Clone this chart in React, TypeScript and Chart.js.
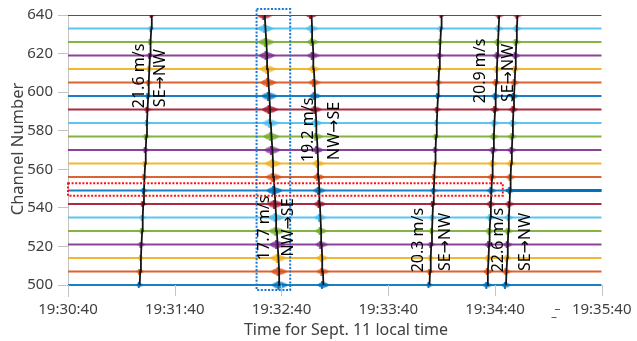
import React, { useEffect, useRef } from 'react';
import { Chart, registerables } from 'chart.js';

Chart.register(...registerables);

// ---------- data ----------
const channels = [500, 507, 514, 521, 528, 535, 542, 549, 556, 563, 570, 577, 584, 591, 598, 605, 612, 619, 626, 633, 640];
const traceColors = ['#0072BD', '#D95319', '#EDB120', '#7E2F8E', '#77AC30', '#4DBEEE', '#A2142F'];

const xTickSeconds = [0, 60, 120, 180, 240, 300];
const xTickLabels = ['19:30:40', '19:31:40', '19:32:40', '19:33:40', '19:34:40', '19:35:40'];
const yTicks = [500, 520, 540, 560, 580, 600, 620, 640];

// arrival time (s after 19:30:40) at each channel, channel 500 -> 640
const arrivalsE1 = [40.3, 40.6, 41.0, 41.3, 41.7, 42.0, 42.3, 42.7, 43.0, 43.4, 43.7, 44.0, 44.4, 44.7, 45.1, 45.4, 45.7, 46.1, 46.4, 46.8, 47.1];
const arrivalsE2 = [119.1, 118.7, 118.3, 117.8, 117.4, 117.0, 116.6, 116.1, 115.7, 115.3, 114.9, 114.4, 114.0, 113.6, 113.2, 112.7, 112.3, 111.9, 111.5, 111.0, 110.6];
const arrivalsE3 = [143.6, 143.3, 142.9, 142.6, 142.3, 141.9, 141.6, 141.3, 140.9, 140.6, 140.3, 139.9, 139.6, 139.2, 138.9, 138.6, 138.2, 137.9, 137.6, 137.2, 136.9];
const arrivalsE4 = [203.2, 203.5, 203.9, 204.2, 204.6, 204.9, 205.2, 205.6, 205.9, 206.3, 206.6, 206.9, 207.3, 207.6, 208.0, 208.3, 208.6, 209.0, 209.3, 209.7, 210.0];
const arrivalsE5 = [235.7, 236.0, 236.4, 236.7, 237.0, 237.4, 237.7, 238.0, 238.4, 238.7, 239.1, 239.4, 239.7, 240.1, 240.4, 240.7, 241.1, 241.4, 241.7, 242.1, 242.4];
const arrivalsE6 = [246.2, 246.5, 246.9, 247.2, 247.5, 247.8, 248.2, 248.5, 248.8, 249.1, 249.5, 249.8, 250.1, 250.4, 250.7, 251.1, 251.4, 251.7, 252.0, 252.3, 252.7];
const eventArrivals = [arrivalsE1, arrivalsE2, arrivalsE3, arrivalsE4, arrivalsE5, arrivalsE6];

const eventSpeeds = ['21.6 m/s', '19.2 m/s', '17.7 m/s', '20.3 m/s', '20.9 m/s', '22.6 m/s'];
const eventDirections = ['SE→NW', 'NW→SE', 'NW→SE', 'SE→NW', 'SE→NW', 'SE→NW'];
// label anchors [seconds, channel]
const speedLabelAt = [[42.6, 608.4], [137.6, 580.4], [112.9, 529.6], [199.5, 523.3], [234.4, 611.0], [244.5, 523.3]];
const directionLabelAt = [[54.4, 607.3], [152.3, 579.9], [126.4, 529.8], [214.7, 522.3], [250.2, 609.9], [259.7, 522.3]];

// highlight boxes [t0, t1, ch0, ch1]
const blueBox = [106.0, 124.9, 497.4, 643.1];
const redBox = [0, 244.4, 546.3, 552.7];

const traceStart = 0;
const traceEnd = 300;
const strongTraceChannel = 549;
const strongTraceSpan = [246.2, 300];

// ---------- styles ----------
const burstW = [8, 17, 13, 8, 10, 10];
const burstH = [4, 7, 6, 4, 5, 5];
const FONT = '"Noto Sans", "DejaVu Sans", sans-serif';

function makeBurst(color: string, w: number, h: number) {
  const c = document.createElement('canvas');
  c.width = w;
  c.height = h + 2;
  const g = c.getContext('2d')!;
  g.globalAlpha = 0.8;
  g.fillStyle = color;
  const px = w * 0.4;
  const cy = (h + 2) / 2;
  g.beginPath();
  g.moveTo(0, cy);
  g.quadraticCurveTo(px, cy - h, w, cy);
  g.quadraticCurveTo(px, cy + h, 0, cy);
  g.closePath();
  g.fill();
  // a short vertical spike at the onset
  g.globalAlpha = 0.9;
  g.fillRect(Math.round(px) - 1, 0, 2, h + 2);
  return c;
}

const overlayPlugin = {
  id: 'overlay',
  afterDatasetsDraw(chart: any) {
    const { ctx, chartArea } = chart;
    const x = chart.scales.x;
    const y = chart.scales.y;
    ctx.save();
    // x tick marks (inside, from data bottom to axis bottom)
    ctx.strokeStyle = '#c4c4c4';
    ctx.lineWidth = 1;
    const yb = y.getPixelForValue(500);
    xTickSeconds.forEach((v) => {
      const px = Math.round(x.getPixelForValue(v)) + 0.5;
      ctx.beginPath();
      ctx.moveTo(px, yb);
      ctx.lineTo(px, chartArea.bottom);
      ctx.stroke();
    });
    // dotted boxes
    const box = (b: number[], color: string) => {
      const x0 = x.getPixelForValue(b[0]);
      const x1 = x.getPixelForValue(b[1]);
      const y0 = y.getPixelForValue(b[3]);
      const y1 = y.getPixelForValue(b[2]);
      ctx.strokeStyle = color;
      ctx.lineWidth = 2;
      ctx.setLineDash([2, 1.6]);
      ctx.strokeRect(x0, y0, x1 - x0, y1 - y0);
    };
    box(blueBox, '#1a78d4');
    box(redBox, '#ff1010');
    ctx.setLineDash([]);
    // rotated labels
    ctx.fillStyle = '#000';
    ctx.font = `16px ${FONT}`;
    ctx.textAlign = 'center';
    ctx.textBaseline = 'alphabetic';
    const rot = (text: string, at: number[]) => {
      ctx.save();
      ctx.translate(x.getPixelForValue(at[0]), y.getPixelForValue(at[1]));
      ctx.rotate(-Math.PI / 2);
      ctx.fillText(text, 0, 0);
      ctx.restore();
    };
    eventSpeeds.forEach((s, i) => rot(s, speedLabelAt[i]));
    eventDirections.forEach((s, i) => rot(s, directionLabelAt[i]));
    // axis titles
    ctx.fillStyle = '#404040';
    ctx.font = `16.5px ${FONT}`;
    ctx.save();
    ctx.translate(23.3, 149);
    ctx.rotate(-Math.PI / 2);
    ctx.fillText('Channel Number', 0, 0);
    ctx.restore();
    ctx.font = `16px ${FONT}`;
    ctx.fillText('Time for Sept. 11 local time', 346, 335);
    // small red marks below the axis
    ctx.strokeStyle = '#e02020';
    ctx.lineWidth = 1;
    ctx.beginPath();
    ctx.moveTo(555, 309.5);
    ctx.lineTo(560, 309.5);
    ctx.moveTo(551.5, 317.5);
    ctx.lineTo(556.5, 317.5);
    ctx.stroke();
    ctx.restore();
  },
};

export default function App() {
  const ref = useRef<HTMLCanvasElement | null>(null);

  useEffect(() => {
    const canvas = ref.current;
    if (!canvas) return;
    const bursts = traceColors.map((c) => burstW.map((w, e) => makeBurst(c, w, burstH[e])));

    const traceSets = channels.map((ch, i) => ({
      type: 'line' as const,
      data: [
        { x: traceStart, y: ch },
        { x: traceEnd, y: ch },
      ],
      borderColor: traceColors[i % 7] + 'E6',
      borderWidth: 2,
      pointRadius: 0,
      order: 3,
    }));

    const strongSet = {
      type: 'line' as const,
      data: [
        { x: strongTraceSpan[0], y: strongTraceChannel },
        { x: strongTraceSpan[1], y: strongTraceChannel },
      ],
      borderColor: traceColors[channels.indexOf(strongTraceChannel) % 7],
      borderWidth: 3,
      pointRadius: 0,
      order: 2,
    };

    const burstSets = channels.map((ch, i) => ({
      type: 'scatter' as const,
      data: eventArrivals.map((arr) => ({ x: arr[i], y: ch })),
      pointRadius: 3,
      pointStyle: (ctx: any) => bursts[i % 7][ctx.dataIndex],
      showLine: false,
      order: 1,
    }));

    const moveoutSets = eventArrivals.map((arr) => ({
      type: 'line' as const,
      data: arr.map((t, i) => ({ x: t, y: channels[i] })),
      borderColor: '#141414',
      borderWidth: 1.8,
      pointRadius: 0,
      order: 0,
    }));

    const chart = new Chart(canvas, {
      type: 'line',
      data: { datasets: [...moveoutSets, ...burstSets, strongSet, ...traceSets] as any },
      options: {
        animation: false,
        responsive: false,
        maintainAspectRatio: false,
        parsing: false,
        layout: { padding: { top: 15, right: 35.3, bottom: 0, left: 0 } },
        plugins: { legend: { display: false }, tooltip: { enabled: false } },
        scales: {
          x: {
            type: 'linear',
            min: 0,
            max: 300,
            afterBuildTicks: (s: any) => {
              s.ticks = xTickSeconds.map((v) => ({ value: v }));
            },
            afterFit: (s: any) => {
              s.height = 45;
            },
            ticks: {
              callback: (v: any) => xTickLabels[xTickSeconds.indexOf(Number(v))] ?? '',
              font: { family: FONT, size: 15 },
              color: '#404040',
              padding: 5,
              maxRotation: 0,
              autoSkip: false,
            },
            grid: { display: false, drawTicks: false },
            border: { display: false },
          },
          y: {
            type: 'linear',
            min: 494.3,
            max: 640,
            afterBuildTicks: (s: any) => {
              s.ticks = yTicks.map((v) => ({ value: v }));
            },
            afterFit: (s: any) => {
              s.width = 68;
            },
            ticks: {
              font: { family: FONT, size: 15 },
              color: '#404040',
              padding: 5,
              autoSkip: false,
            },
            grid: { drawOnChartArea: false, drawTicks: true, tickLength: 10, color: '#c4c4c4' },
            border: { display: true, color: '#c4c4c4', width: 1 },
          },
        },
      },
      plugins: [overlayPlugin],
    });
    return () => chart.destroy();
  }, []);

  return (
    <div style={{ position: 'fixed', left: 0, top: 0, width: 637, height: 341, background: '#fff' }}>
      <canvas ref={ref} width={637} height={341} />
    </div>
  );
}
